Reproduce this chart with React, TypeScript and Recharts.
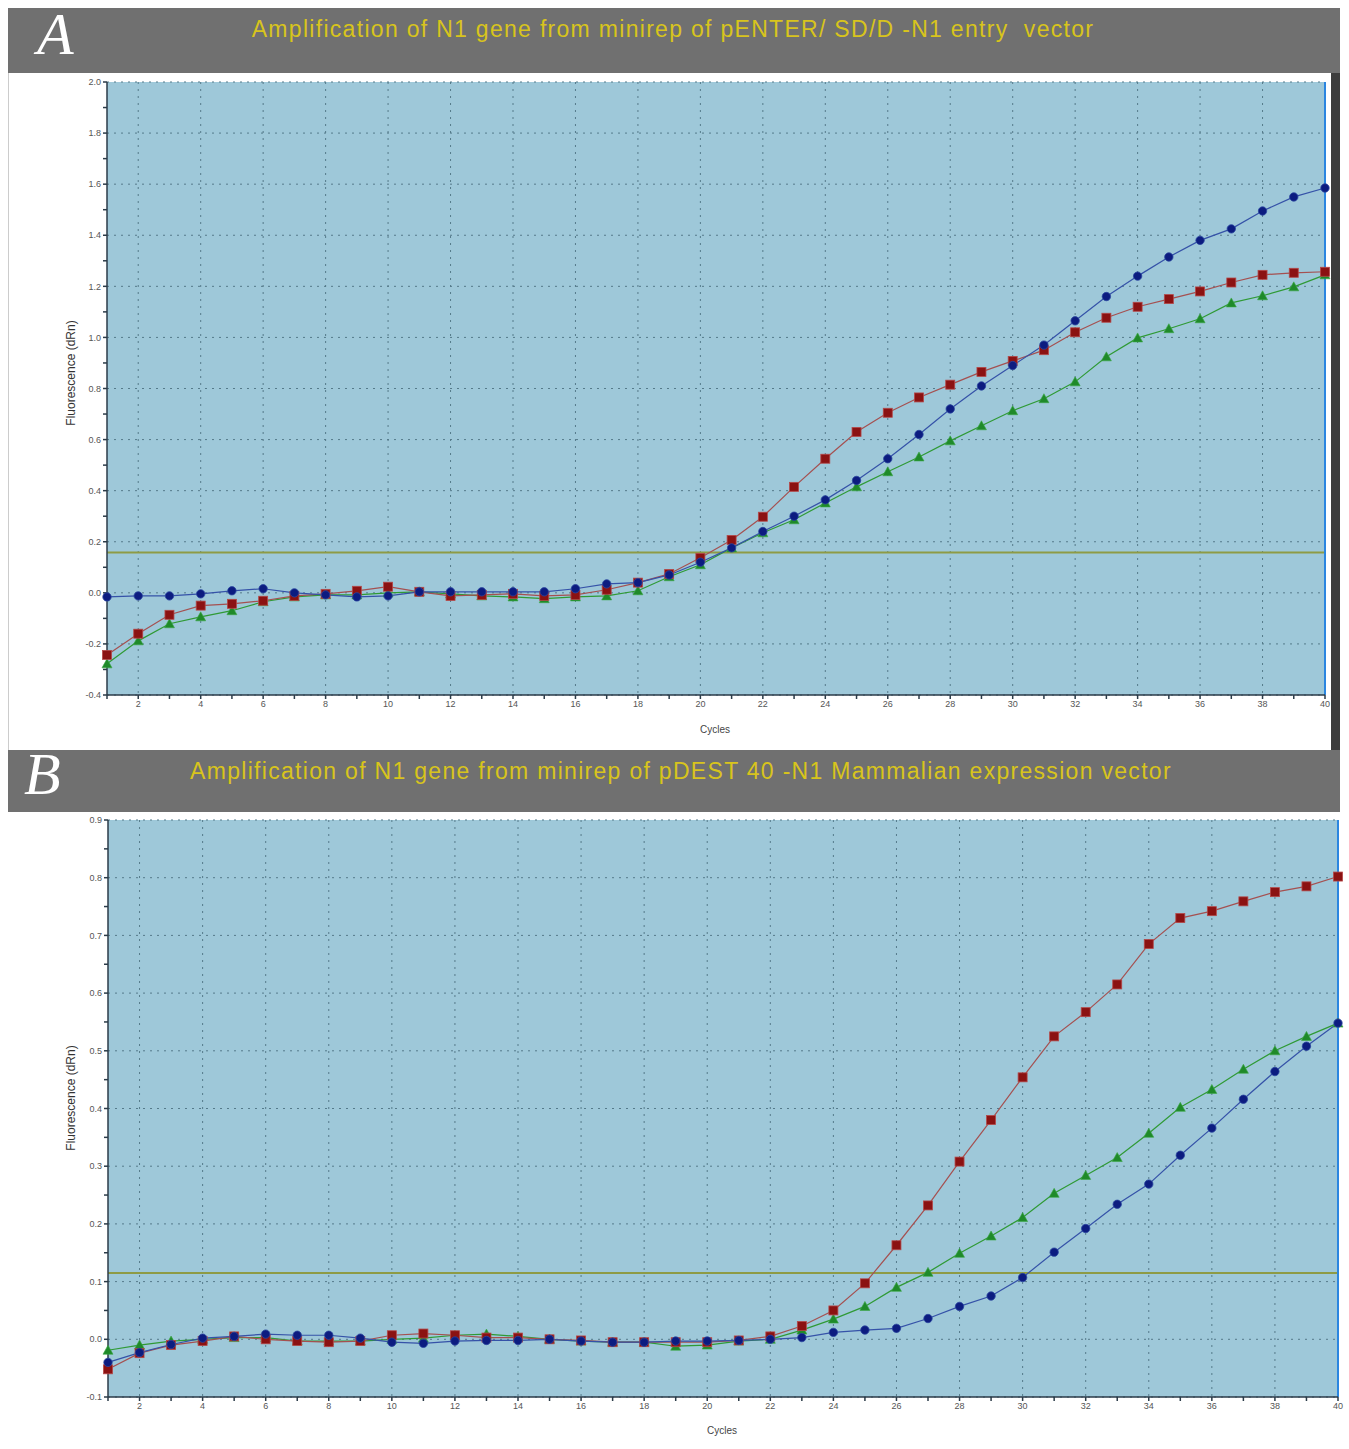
import { CartesianGrid, Line, LineChart, ReferenceLine, XAxis, YAxis } from 'recharts';

const cycles = [
  1, 2, 3, 4, 5, 6, 7, 8, 9, 10, 11, 12, 13, 14, 15, 16, 17, 18, 19, 20,
  21, 22, 23, 24, 25, 26, 27, 28, 29, 30, 31, 32, 33, 34, 35, 36, 37, 38, 39, 40,
];
const evenCycles = [2, 4, 6, 8, 10, 12, 14, 16, 18, 20, 22, 24, 26, 28, 30, 32, 34, 36, 38, 40];

// panel A: pENTER/SD/D-N1
const aBlue = [
  -0.016, -0.012, -0.012, -0.004, 0.008, 0.016, 0.0, -0.008, -0.016, -0.012,
  0.004, 0.004, 0.004, 0.004, 0.004, 0.016, 0.035, 0.04, 0.07, 0.12,
  0.176, 0.24, 0.3, 0.364, 0.44, 0.525, 0.62, 0.72, 0.81, 0.89,
  0.97, 1.065, 1.16, 1.24, 1.315, 1.38, 1.425, 1.495, 1.55, 1.585,
];
const aRed = [
  -0.243, -0.16, -0.086, -0.05, -0.043, -0.031, -0.012, -0.004, 0.008, 0.024,
  0.004, -0.012, -0.008, -0.004, -0.012, -0.008, 0.012, 0.04, 0.074, 0.137,
  0.207, 0.298, 0.415, 0.525, 0.63, 0.705, 0.765, 0.815, 0.865, 0.908,
  0.95, 1.02, 1.077, 1.12, 1.15, 1.18, 1.215, 1.245, 1.253, 1.257,
];
const aGreen = [
  -0.278, -0.188, -0.121, -0.094, -0.07, -0.035, -0.016, -0.008, -0.008, 0.0,
  0.004, -0.004, -0.012, -0.016, -0.023, -0.016, -0.012, 0.008, 0.063, 0.11,
  0.176, 0.235, 0.286, 0.352, 0.415, 0.474, 0.532, 0.595, 0.654, 0.713,
  0.76, 0.826, 0.924, 0.998, 1.034, 1.073, 1.135, 1.163, 1.198, 1.245,
];
const aThreshold = 0.158;
const aTicks = [
  -0.4, -0.3, -0.2, -0.1, 0, 0.1, 0.2, 0.3, 0.4, 0.5, 0.6, 0.7, 0.8, 0.9, 1.0,
  1.1, 1.2, 1.3, 1.4, 1.5, 1.6, 1.7, 1.8, 1.9, 2.0,
];
const aMajor = [-0.4, -0.2, 0, 0.2, 0.4, 0.6, 0.8, 1.0, 1.2, 1.4, 1.6, 1.8, 2.0];

// panel B: pDEST 40-N1
const bBlue = [
  -0.04, -0.023, -0.009, 0.002, 0.005, 0.009, 0.007, 0.007, 0.002, -0.005,
  -0.007, -0.003, -0.002, -0.002, 0.0, -0.003, -0.005, -0.005, -0.003, -0.003,
  -0.002, 0.0, 0.003, 0.012, 0.016, 0.019, 0.036, 0.057, 0.075, 0.107,
  0.151, 0.192, 0.234, 0.269, 0.319, 0.366, 0.416, 0.464, 0.508, 0.548,
];
const bRed = [
  -0.052, -0.024, -0.01, -0.003, 0.005, 0.0, -0.003, -0.005, -0.003, 0.007,
  0.01, 0.007, 0.003, 0.003, 0.0, -0.002, -0.005, -0.005, -0.005, -0.005,
  -0.002, 0.005, 0.023, 0.05, 0.097, 0.163, 0.232, 0.308, 0.38, 0.454,
  0.525, 0.567, 0.615, 0.685, 0.73, 0.742, 0.759, 0.775, 0.785, 0.802,
];
const bGreen = [
  -0.019, -0.01, -0.003, 0.0, 0.003, 0.003, -0.003, -0.003, -0.003, 0.0,
  0.002, 0.007, 0.009, 0.005, 0.0, -0.003, -0.005, -0.005, -0.012, -0.01,
  -0.003, 0.0, 0.016, 0.035, 0.057, 0.09, 0.116, 0.149, 0.179, 0.211,
  0.253, 0.284, 0.315, 0.357, 0.402, 0.433, 0.468, 0.5, 0.525, 0.548,
];
const bThreshold = 0.115;
const bTicks = [
  -0.1, -0.05, 0, 0.05, 0.1, 0.15, 0.2, 0.25, 0.3, 0.35, 0.4, 0.45, 0.5, 0.55,
  0.6, 0.65, 0.7, 0.75, 0.8, 0.85, 0.9,
];
const bMajor = [-0.1, 0, 0.1, 0.2, 0.3, 0.4, 0.5, 0.6, 0.7, 0.8, 0.9];

const FONT = '"Liberation Sans", Arial, sans-serif';
const SERIF = '"Liberation Serif", "DejaVu Serif", serif';
const tickStyle = { fontSize: 9, fill: '#555', fontFamily: FONT };

function Square(props: any) {
  const { cx, cy } = props;
  if (cx == null || cy == null) return null;
  return <rect key={props.index} x={cx - 4.5} y={cy - 4.5} width={9} height={9} fill="#8b1212" stroke="#b54848" strokeWidth={0.8} />;
}

function Triangle(props: any) {
  const { cx, cy } = props;
  if (cx == null || cy == null) return null;
  return (
    <polygon
      key={props.index}
      points={`${cx},${cy - 5} ${cx + 5},${cy + 4} ${cx - 5},${cy + 4}`}
      fill="#1f8a2a"
      stroke="#3aa845"
      strokeWidth={0.6}
    />
  );
}

function Panel(props: {
  blue: number[];
  red: number[];
  green: number[];
  threshold: number;
  ticks: number[];
  major: number[];
  domain: [number, number];
  width: number;
  height: number;
  margin: { top: number; right: number; bottom: number; left: number };
}) {
  const data = cycles.map((c, i) => ({ cycle: c, blue: props.blue[i], red: props.red[i], green: props.green[i] }));
  const isMajor = (v: number) => props.major.some((m) => Math.abs(m - v) < 1e-6);
  return (
    <LineChart width={props.width} height={props.height} data={data} margin={props.margin}>
      <CartesianGrid
        fill="#9ec8d9"
        stroke="#557a8a"
        strokeDasharray="2 5"
        horizontalValues={props.major}
        verticalValues={evenCycles}
      />
      <XAxis
        dataKey="cycle"
        type="number"
        domain={[1, 40]}
        ticks={cycles}
        interval={0}
        tickFormatter={(v) => (v % 2 === 0 ? String(v) : '')}
        tick={tickStyle}
        tickSize={4}
        height={30}
        stroke="#2b3b48"
        strokeWidth={1.5}
      />
      <YAxis
        type="number"
        domain={props.domain}
        ticks={props.ticks}
        interval={0}
        allowDataOverflow
        tickFormatter={(v) => (isMajor(v) ? Number(v).toFixed(1) : '')}
        tick={tickStyle}
        tickSize={4}
        width={40}
        stroke="#2b3b48"
        strokeWidth={1.5}
      />
      <ReferenceLine y={props.threshold} stroke="#8e9b45" strokeWidth={2} />
      <ReferenceLine x={40} stroke="#2b86e0" strokeWidth={2} />
      <Line dataKey="green" stroke="#2f9a35" strokeWidth={1.2} dot={<Triangle />} isAnimationActive={false} />
      <Line dataKey="red" stroke="#a55050" strokeWidth={1.2} dot={<Square />} isAnimationActive={false} />
      <Line
        dataKey="blue"
        stroke="#3552a8"
        strokeWidth={1.2}
        dot={{ r: 4.2, fill: '#0c1c80', stroke: '#2a45a0', strokeWidth: 0.8 }}
        isAnimationActive={false}
      />
    </LineChart>
  );
}

const abs = (left: number, top: number, extra: any = {}) => ({ position: 'absolute' as const, left, top, ...extra });

const titleStyle = { textAlign: 'center', fontSize: 23, letterSpacing: 1.3, color: '#d8c41c', whiteSpace: 'pre' };
const yLabelStyle = {
  fontSize: 12,
  color: '#333',
  width: 130,
  textAlign: 'center',
  transform: 'rotate(-90deg)',
  transformOrigin: '65px 0',
  marginTop: -7,
};

export default function App() {
  return (
    <div style={abs(0, 0, { width: 1349, height: 1449, background: '#fff', fontFamily: FONT })}>
      {/* panel A */}
      <div style={abs(8, 8, { width: 1332, height: 65, background: '#707070' })} />
      <div style={abs(37, 0, { fontFamily: SERIF, fontStyle: 'italic', fontSize: 60, color: '#fff' })}>A</div>
      <div style={abs(0, 16, { width: 1346, ...titleStyle })}>
        Amplification of N1 gene from minirep of pENTER/ SD/D -N1 entry  vector
      </div>
      <div style={abs(8, 73, { width: 1332, height: 677, borderLeft: '1px solid #ccc', boxSizing: 'border-box' })} />
      <div style={abs(1331, 73, { width: 9, height: 677, background: '#3c3c3c' })} />
      <div style={abs(0, 0)}>
        <Panel
          blue={aBlue}
          red={aRed}
          green={aGreen}
          threshold={aThreshold}
          ticks={aTicks}
          major={aMajor}
          domain={[-0.4, 2.0]}
          width={1349}
          height={760}
          margin={{ top: 82, right: 24, bottom: 35, left: 67 }}
        />
      </div>
      <div style={abs(-1, 380, yLabelStyle)}>Fluorescence (dRn)</div>
      <div style={abs(685, 724, { width: 60, textAlign: 'center', fontSize: 10, color: '#444' })}>Cycles</div>

      {/* panel B */}
      <div style={abs(8, 750, { width: 1332, height: 62, background: '#707070' })} />
      <div style={abs(24, 740, { fontFamily: SERIF, fontStyle: 'italic', fontSize: 60, color: '#fff' })}>B</div>
      <div style={abs(0, 758, { width: 1362, ...titleStyle })}>
        Amplification of N1 gene from minirep of pDEST 40 -N1 Mammalian expression vector
      </div>
      <div style={abs(0, 760)}>
        <Panel
          blue={bBlue}
          red={bRed}
          green={bGreen}
          threshold={bThreshold}
          ticks={bTicks}
          major={bMajor}
          domain={[-0.1, 0.9]}
          width={1349}
          height={689}
          margin={{ top: 60, right: 11, bottom: 22, left: 68 }}
        />
      </div>
      <div style={abs(-1, 1105, yLabelStyle)}>Fluorescence (dRn)</div>
      <div style={abs(692, 1425, { width: 60, textAlign: 'center', fontSize: 10, color: '#444' })}>Cycles</div>
    </div>
  );
}
